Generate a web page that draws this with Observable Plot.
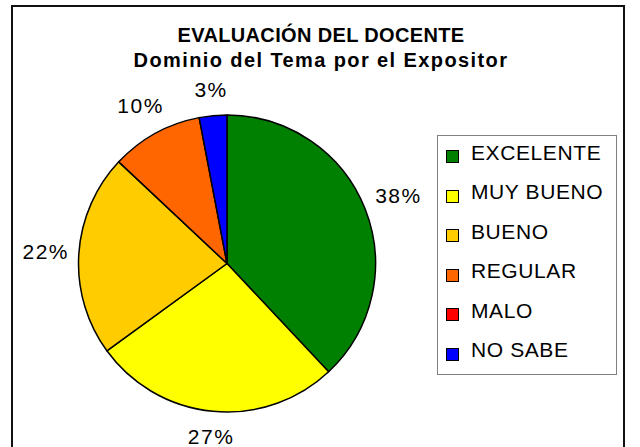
<!DOCTYPE html>
<html>
<head>
<meta charset="utf-8">
<script src="https://cdn.jsdelivr.net/npm/d3@7"></script>
<script src="https://cdn.jsdelivr.net/npm/@observablehq/plot@0.6"></script>
<style>
  html, body { margin: 0; padding: 0; background: #fff; }
  #wrap { position: relative; width: 640px; height: 447px; overflow: hidden; font-family: "Liberation Sans", Arial, sans-serif; color: #000; }
  #wrap svg { position: absolute; left: 0; top: 0; }
  .frame { position: absolute; left: 11px; top: 5px; width: 610px; height: 500px; border: 2px solid #111; }
  .title { position: absolute; left: 0; width: 642px; text-align: center; font-weight: bold; font-size: 20px; line-height: 20px; white-space: nowrap; }
  .legend { position: absolute; left: 437px; top: 135px; width: 178px; height: 238px; border: 1px solid #808080; }
  .sw { position: absolute; width: 11px; height: 11px; border: 1.5px solid #000; }
  .lt { position: absolute; font-size: 21px; line-height: 21px; letter-spacing: 0.6px; white-space: nowrap; }
</style>
</head>
<body>
<div id="wrap"></div>
<script>
const titleLines = ["EVALUACIÓN DEL DOCENTE", "Dominio del Tema por el Expositor"];
const categories = ["EXCELENTE", "MUY BUENO", "BUENO", "REGULAR", "MALO", "NO SABE"];
const values = [38, 27, 22, 10, 0, 3];
const colors = ["#008000", "#FFFF00", "#FFCC00", "#FF6600", "#FF0000", "#0000FF"];

const data = categories.map((c, i) => ({category: c, value: values[i], color: colors[i]}));

// layout
const cx = 227, cy = 263.5, R = 148.5;

const arcs = d3.pie().sort(null).value(d => d.value)(data);
const labels = arcs.filter(a => a.data.value > 0).map(a => {
  const m = (a.startAngle + a.endAngle) / 2;
  const s = Math.sin(m), c = Math.cos(m);
  const k = (R + 14 + 19 * Math.abs(s) + 10 * Math.abs(c)) / R;
  return {x: k * s, y: k * c, text: a.data.value + "%"};
});

const pieMark = (index, scales) => {
  const x0 = scales.x(0), y0 = scales.y(0), rad = scales.x(1) - scales.x(0);
  const g = d3.create("svg:g").attr("transform", `translate(${x0},${y0})`);
  const arc = d3.arc().innerRadius(0).outerRadius(rad);
  g.selectAll("path")
    .data(arcs.filter(a => a.data.value > 0))
    .join("path")
    .attr("d", arc)
    .attr("fill", a => a.data.color)
    .attr("stroke", "#000")
    .attr("stroke-width", 1.5)
    .attr("stroke-linejoin", "round");
  return g.node();
};

const chart = Plot.plot({
  width: 640,
  height: 447,
  margin: 0,
  style: {fontFamily: "'Liberation Sans', Arial, sans-serif", background: "transparent", letterSpacing: "1.5px"},
  x: {domain: [-1, 1], range: [cx - R, cx + R], axis: null},
  y: {domain: [-1, 1], range: [cy + R, cy - R], axis: null},
  marks: [
    pieMark,
    Plot.text(labels, {x: "x", y: "y", text: "text", fontSize: 21, fill: "#000", textAnchor: "middle", lineAnchor: "middle"})
  ]
});

const wrap = document.getElementById("wrap");
wrap.appendChild(chart);

const frame = document.createElement("div");
frame.className = "frame";
wrap.appendChild(frame);

const tTops = [25, 50];
const tSpacing = ["0.35px", "1.4px"];
titleLines.forEach((t, i) => {
  const d = document.createElement("div");
  d.className = "title";
  d.style.top = tTops[i] + "px";
  d.style.letterSpacing = tSpacing[i];
  d.textContent = t;
  wrap.appendChild(d);
});

const legend = document.createElement("div");
legend.className = "legend";
wrap.appendChild(legend);
categories.forEach((c, i) => {
  const sw = document.createElement("div");
  sw.className = "sw";
  sw.style.left = (446 - 437 - 1) + "px";
  sw.style.top = (150 + i * 39.5 - 135 - 1) + "px";
  sw.style.background = colors[i];
  legend.appendChild(sw);
  const lt = document.createElement("div");
  lt.className = "lt";
  lt.style.left = (471 - 437 - 1) + "px";
  lt.style.top = (159.5 + i * 39.5 - 18 - 135 - 1) + "px";
  lt.textContent = c;
  legend.appendChild(lt);
});
</script>
</body>
</html>
